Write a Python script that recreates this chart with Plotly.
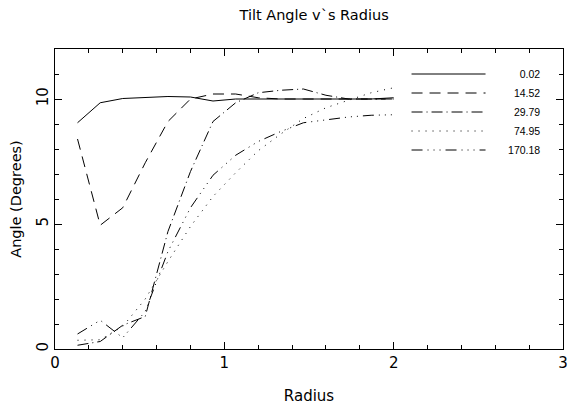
import plotly.graph_objects as go

radius = [0.133, 0.267, 0.4, 0.533, 0.667, 0.8, 0.933, 1.067, 1.2, 1.333, 1.467, 1.6, 1.733, 1.867, 2.0]

angle_002 = [9.05, 9.85, 10.02, 10.05, 10.1, 10.08, 9.92, 10.0, 10.0, 10.0, 10.0, 10.0, 10.0, 10.0, 10.05]
angle_1452 = [8.4, 4.95, 5.65, 7.45, 9.1, 10.0, 10.2, 10.2, 10.05, 10.0, 10.0, 10.0, 10.0, 10.0, 10.0]
angle_2979 = [0.15, 0.3, 0.95, 1.3, 4.7, 7.1, 9.1, 9.85, 10.25, 10.35, 10.4, 10.15, 10.0, 10.0, 10.0]
angle_7495 = [0.35, 0.37, 0.9, 2.0, 3.5, 4.9, 6.1, 7.05, 7.93, 8.6, 9.22, 9.65, 9.95, 10.25, 10.45]
angle_17018 = [0.6, 1.15, 0.45, 1.5, 3.9, 5.65, 6.95, 7.75, 8.3, 8.7, 9.05, 9.15, 9.28, 9.35, 9.37]

series_labels = ["0.02", "14.52", "29.79", "74.95", "170.18"]
series_values = [angle_002, angle_1452, angle_2979, angle_7495, angle_17018]
dash_styles = ["solid", "11px,7px", "11px,4px,1px,4px", "1px,6px", "11px,5px,1px,5px,1px,5px,1px,5px"]

x_ticks = [0, 1, 2, 3]
y_ticks = [0, 5, 10]

# right-align legend labels with figure spaces (digit-width)
width_max = max(len(s.replace(".", "")) for s in series_labels)
legend_names = ["\u2007" * (3 + width_max - len(s.replace(".", ""))) + s for s in series_labels]

fig = go.Figure()
for name, vals, dash in zip(legend_names, series_values, dash_styles):
    fig.add_trace(go.Scatter(
        x=radius, y=vals, mode="lines", name=name,
        line=dict(color="black", width=1, dash=dash),
    ))

axis_font = dict(family="DejaVu Sans", size=15, color="black")

fig.update_layout(
    width=568, height=407,
    margin=dict(l=55, r=5, t=49, b=58, autoexpand=False),
    paper_bgcolor="white", plot_bgcolor="white",
    title=dict(text="Tilt Angle v`s Radius", x=0.553, xanchor="center", y=0.963, yanchor="middle",
               font=dict(family="DejaVu Sans", size=14.5, color="black")),
    showlegend=True,
    legend=dict(x=0.692, y=0.965, xanchor="left", yanchor="top", bgcolor="rgba(0,0,0,0)",
                font=dict(family="Liberation Sans", size=10.5, color="black"),
                itemwidth=74, tracegroupgap=0),
)
fig.update_xaxes(
    range=[0, 3], tickvals=x_ticks, ticktext=[str(v) for v in x_ticks], automargin=False,
    ticks="inside", ticklen=7, tickcolor="black", showline=True, linecolor="black", linewidth=1,
    mirror="allticks", showgrid=False, zeroline=False, ticklabeloverflow="allow",
    minor=dict(dtick=0.2, ticks="inside", ticklen=4, tickcolor="black", showgrid=False),
    tickfont=axis_font,
    title=dict(text="Radius", font=dict(family="DejaVu Sans", size=15, color="black"), standoff=19),
)
fig.update_yaxes(
    range=[0, 12], tickvals=y_ticks, ticktext=[str(v) for v in y_ticks], automargin=False,
    ticks="inside", ticklen=7, tickcolor="black", showline=True, linecolor="black", linewidth=1,
    mirror="allticks", showgrid=False, zeroline=False, tickangle=-90,
    minor=dict(dtick=1, ticks="inside", ticklen=4, tickcolor="black", showgrid=False),
    tickfont=axis_font,
    title=dict(text="Angle (Degrees)", font=dict(family="DejaVu Sans", size=14.5, color="black"), standoff=8),
)

fig.write_html("out.html")
